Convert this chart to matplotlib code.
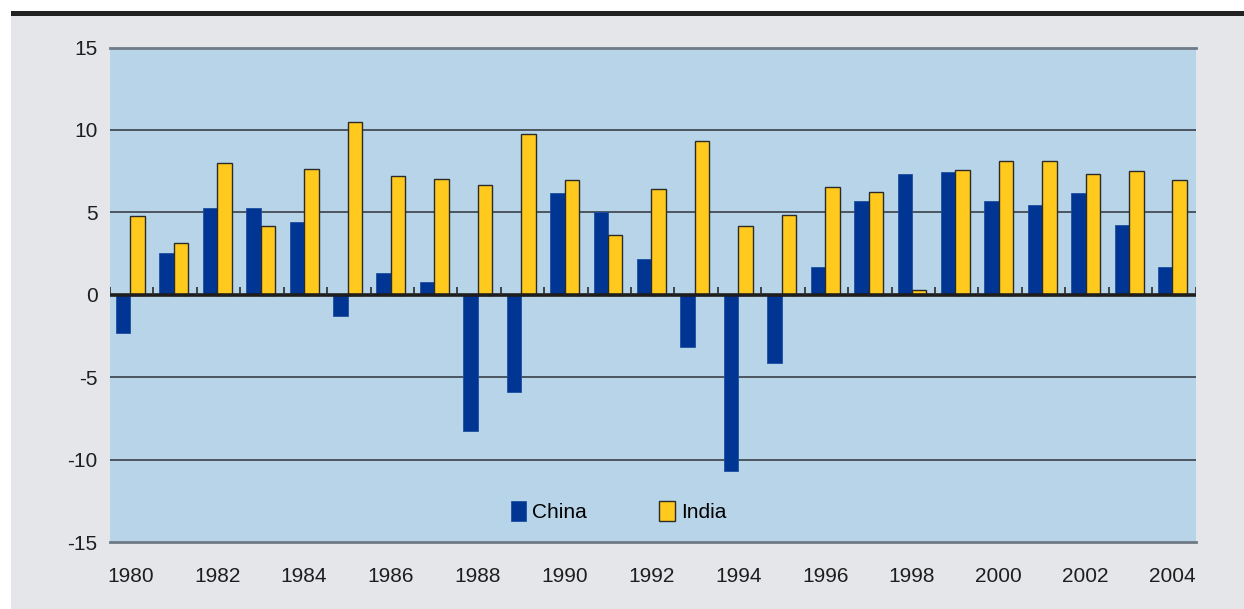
import matplotlib.pyplot as plt
from matplotlib.patches import Rectangle
import numpy as np

plt.rcParams['font.family'] = ['Liberation Sans', 'DejaVu Sans']

years = list(range(1980, 2005))
china = [-2.33, 2.53, 5.24, 5.24, 4.43, -1.27, 1.33, 0.79, -8.27, -5.93,
         6.19, 5.02, 2.18, -3.20, -10.70, -4.15, 1.70, 5.68, 7.34, 7.46,
         5.68, 5.44, 6.17, 4.21, 1.70]
india = [4.75, 3.11, 8.01, 4.17, 7.65, 10.50, 7.20, 7.04, 6.65, 9.77,
         6.98, 3.60, 6.41, 9.33, 4.15, 4.81, 6.55, 6.25, 0.28, 7.57,
         8.09, 8.09, 7.32, 7.50, 6.98]
y_ticks = [-15, -10, -5, 0, 5, 10, 15]

W, H = 1244, 609
fig = plt.figure(figsize=(W / 100, H / 100), dpi=100, facecolor='white')

# grey panel and dark rule along the top
fig.patches.append(Rectangle((11 / W, 0), 1 - 11 / W, 1 - 15 / H,
                             transform=fig.transFigure, facecolor='#e4e6ea',
                             edgecolor='none', zorder=-2))
fig.patches.append(Rectangle((11 / W, 1 - 15.5 / H), 1 - 11 / W, 5 / H,
                             transform=fig.transFigure, facecolor='#222222',
                             edgecolor='none', zorder=-1))

ax = fig.add_axes([110 / W, 1 - 542 / H, 1085.5 / W, 494.5 / H])
ax.set_zorder(2)
ax.set_facecolor('#b7d4e8')

x = np.arange(len(years))
w = 0.333
off = -0.03
ax.bar(x + off - w / 2, china, width=w, color='#003594', edgecolor='#1f4fa0',
       linewidth=0.6, label='China', zorder=3)
ax.bar(x + off + w / 2, india, width=w, color='#ffca1d', edgecolor='#2b2b2b',
       linewidth=1.0, label='India', zorder=3)

ax.set_xlim(-0.5, len(years) - 0.5)
ax.set_ylim(-15, 15)

for v in [-10, -5, 5, 10]:
    ax.axhline(v, color='#3a4048', linewidth=1.2, zorder=1)
for v in [-15, 15]:
    ax.axhline(v, color='#6f7a86', linewidth=2, zorder=1, clip_on=False)
ax.axhline(0, color='#1e1e1e', linewidth=2.6, zorder=4)

# small ticks between the year groups, standing on the zero line
ax.vlines(np.arange(len(years) + 1) - 0.5, 0, 0.45, color='#2a2a2a',
          linewidth=1.2, zorder=4)

for s in ax.spines.values():
    s.set_visible(False)

ax.set_yticks(y_ticks)
ax.set_yticklabels([str(v) for v in y_ticks])
ax.set_xticks(x[::2] + off)
ax.set_xticklabels([str(y) for y in years[::2]])
ax.tick_params(axis='both', length=0, labelsize=15, colors='#1e1e1e')
ax.tick_params(axis='y', pad=9)
ax.tick_params(axis='x', pad=18)

ax.legend(loc='center left', bbox_to_anchor=(0.369, 0.062), ncol=2,
          frameon=False, fontsize=15, borderpad=0, borderaxespad=0,
          handlelength=0.75, handleheight=1.15, handletextpad=0.3,
          columnspacing=3.45)

fig.savefig('out.png', dpi=100, facecolor=fig.get_facecolor())
